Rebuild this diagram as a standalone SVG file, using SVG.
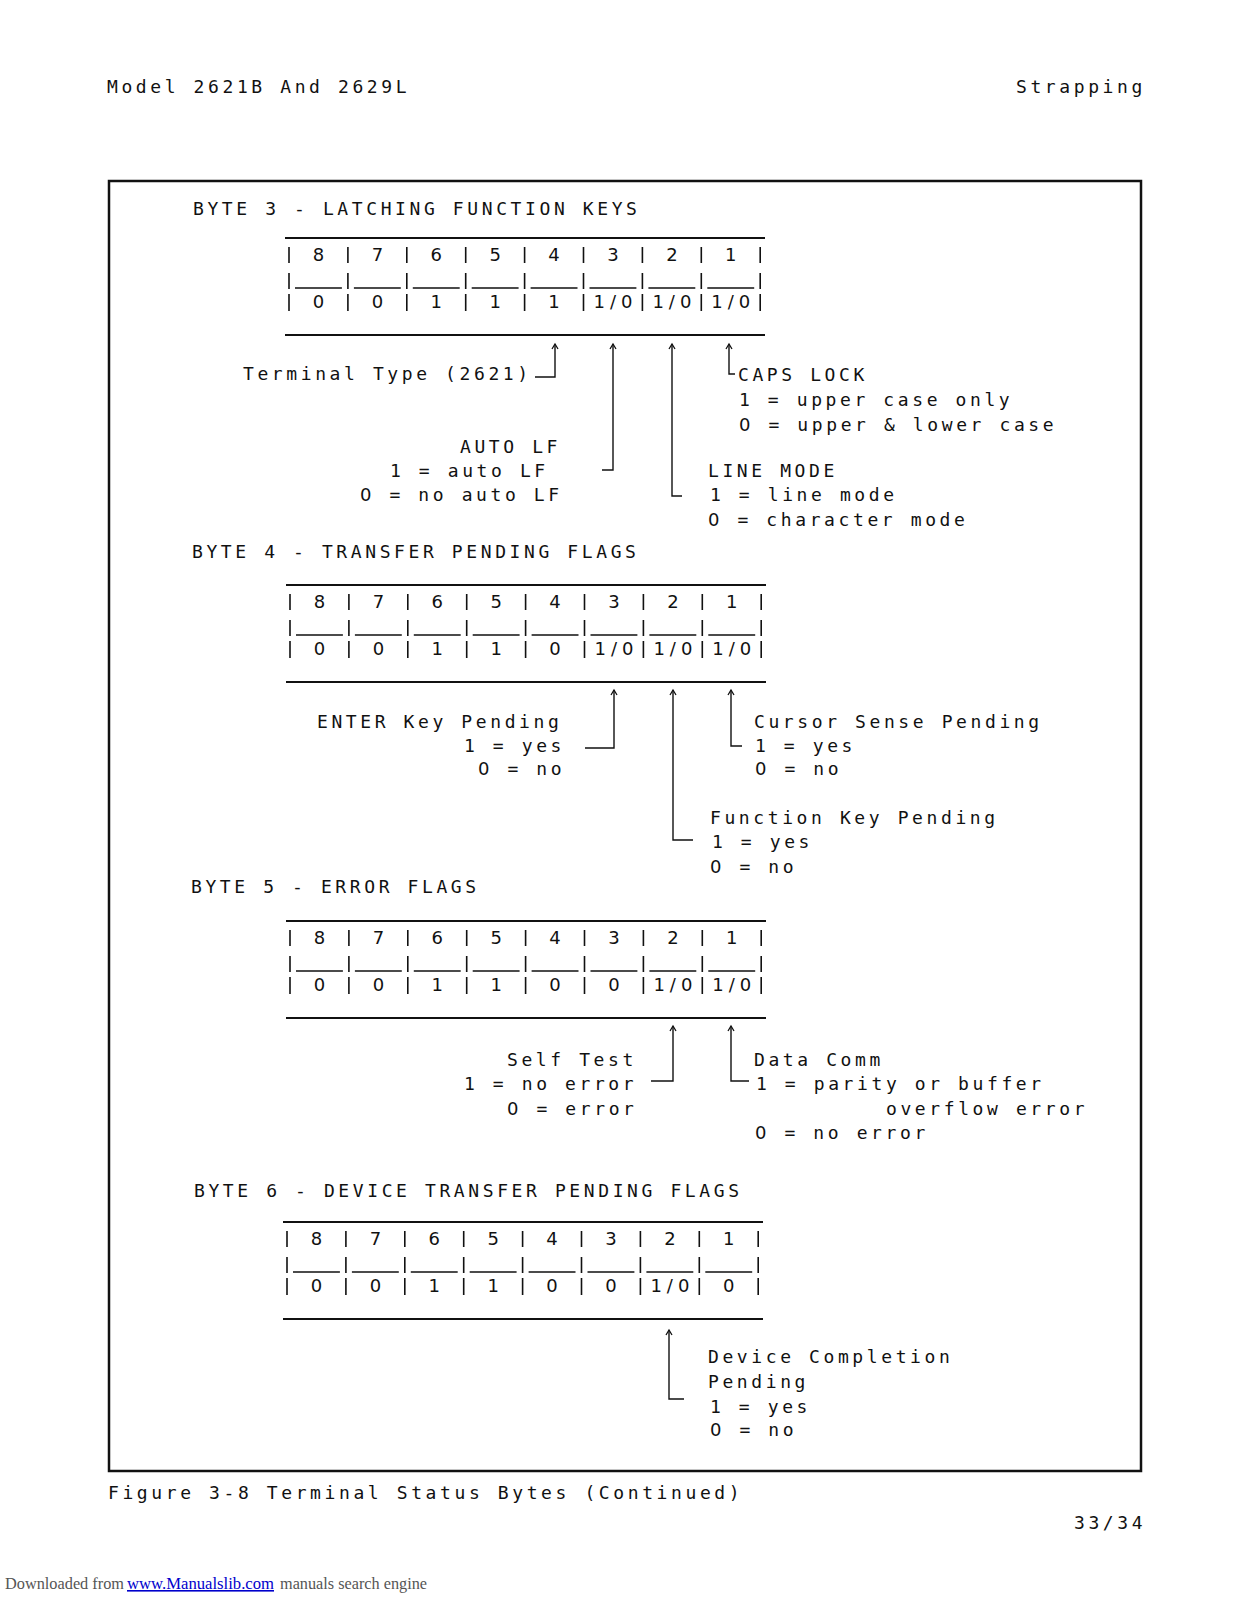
<svg xmlns="http://www.w3.org/2000/svg" width="1237" height="1600" viewBox="0 0 1237 1600" xml:space="preserve">
<style>
.t{font-family:"DejaVu Sans Mono","Liberation Mono",monospace;font-size:18px;letter-spacing:3.6px;fill:#111}
.z{font-family:"DejaVu Sans","Liberation Sans",sans-serif}
.c{font-family:"DejaVu Sans","Liberation Sans",sans-serif;font-size:18px;fill:#111;text-anchor:middle}
.c3{font-family:"DejaVu Sans","Liberation Sans",sans-serif;font-size:18px;fill:#111;text-anchor:middle;letter-spacing:5px}
.rule{stroke:#111;stroke-width:1.8;fill:none}
.bar{stroke:#111;stroke-width:1.6;fill:none}
.conn{stroke:#111;stroke-width:1.4;fill:none}
.dl{font-family:"Liberation Serif",serif;font-size:16px;fill:#555}
</style>
<defs>
<marker id="ah" markerUnits="userSpaceOnUse" viewBox="-8 -5 10 10" refX="0" refY="0" markerWidth="10" markerHeight="10" orient="auto-start-reverse">
<path d="M-5,-3 L0,0 L-5,3" stroke="#111" stroke-width="1.3" fill="none"/>
</marker>
<g id="grid">
<path class="rule" d="M-4,0 H476 M-4,97 H476"/>
<path class="bar" d="M0,9 V25 M0,35 V51 M0,56 V73 M58.9,9 V25 M58.9,35 V51 M58.9,56 V73 M117.8,9 V25 M117.8,35 V51 M117.8,56 V73 M176.7,9 V25 M176.7,35 V51 M176.7,56 V73 M235.6,9 V25 M235.6,35 V51 M235.6,56 V73 M294.5,9 V25 M294.5,35 V51 M294.5,56 V73 M353.4,9 V25 M353.4,35 V51 M353.4,56 V73 M412.3,9 V25 M412.3,35 V51 M412.3,56 V73 M471.2,9 V25 M471.2,35 V51 M471.2,56 V73"/>
<path class="bar" d="M6,50 H52.9 M64.9,50 H111.8 M123.8,50 H170.7 M182.7,50 H229.6 M241.6,50 H288.5 M300.5,50 H347.4 M359.4,50 H406.3 M418.3,50 H465.2"/>
</g>
</defs>
<rect width="1237" height="1600" fill="#fff"/>

<g id="header">
<text class="t" x="107" y="93">Model 2621B And 2629L</text>
<text class="t" x="1016" y="93">Strapping</text>
</g>

<rect id="frame" x="109" y="181" width="1032" height="1290" fill="none" stroke="#111" stroke-width="2.5"/>

<g id="byte3">
<text class="t" x="193" y="215">BYTE 3 - LATCHING FUNCTION KEYS</text>
<use href="#grid" x="289" y="238"/>
<g>
<text class="c" x="318.5" y="261">8</text><text class="c" x="377.4" y="261">7</text><text class="c" x="436.3" y="261">6</text><text class="c" x="495.2" y="261">5</text><text class="c" x="554.1" y="261">4</text><text class="c" x="613" y="261">3</text><text class="c" x="671.9" y="261">2</text><text class="c" x="730.8" y="261">1</text>
<text class="c" x="318.5" y="308">0</text><text class="c" x="377.4" y="308">0</text><text class="c" x="436.3" y="308">1</text><text class="c" x="495.2" y="308">1</text><text class="c" x="554.1" y="308">1</text><text class="c3" x="615.5" y="308">1/0</text><text class="c3" x="674.4" y="308">1/0</text><text class="c3" x="733.3" y="308">1/0</text>
</g>
</g>
<g id="b3-terminal-type"><text class="t" x="243" y="380">Terminal Type (2621)</text></g>
<g id="b3-caps-lock">
<text class="t" x="738" y="381">CAPS LOCK</text>
<text class="t" x="739" y="406">1 = upper case only</text>
<text class="t" x="739" y="431"><tspan class="z">0</tspan> = upper &amp; lower case</text>
</g>
<g id="b3-auto-lf">
<text class="t" x="460" y="453">AUTO LF</text>
<text class="t" x="390" y="477">1  = auto LF</text>
<text class="t" x="360" y="501"><tspan class="z">0</tspan> = no auto LF</text>
</g>
<g id="b3-line-mode">
<text class="t" x="708" y="477">LINE MODE</text>
<text class="t" x="710" y="501">1 = line mode</text>
<text class="t" x="708" y="526"><tspan class="z">0</tspan> = character mode</text>
</g>

<g id="byte4">
<text class="t" x="192" y="558">BYTE 4 - TRANSFER PENDING FLAGS</text>
<use href="#grid" x="290" y="585"/>
<g>
<text class="c" x="319.5" y="608">8</text><text class="c" x="378.4" y="608">7</text><text class="c" x="437.3" y="608">6</text><text class="c" x="496.2" y="608">5</text><text class="c" x="555.1" y="608">4</text><text class="c" x="614" y="608">3</text><text class="c" x="672.9" y="608">2</text><text class="c" x="731.8" y="608">1</text>
<text class="c" x="319.5" y="655">0</text><text class="c" x="378.4" y="655">0</text><text class="c" x="437.3" y="655">1</text><text class="c" x="496.2" y="655">1</text><text class="c" x="555.1" y="655">0</text><text class="c3" x="616.5" y="655">1/0</text><text class="c3" x="675.4" y="655">1/0</text><text class="c3" x="734.3" y="655">1/0</text>
</g>
</g>
<g id="b4-enter">
<text class="t" x="317" y="728">ENTER Key Pending</text>
<text class="t" x="464" y="752">1 = yes</text>
<text class="t" x="478" y="775"><tspan class="z">0</tspan> = no</text>
</g>
<g id="b4-cursor">
<text class="t" x="754" y="728">Cursor Sense Pending</text>
<text class="t" x="755" y="752">1 = yes</text>
<text class="t" x="755" y="775"><tspan class="z">0</tspan> = no</text>
</g>
<g id="b4-function">
<text class="t" x="710" y="824">Function Key Pending</text>
<text class="t" x="712" y="848">1 = yes</text>
<text class="t" x="710" y="873"><tspan class="z">0</tspan> = no</text>
</g>

<g id="byte5">
<text class="t" x="191" y="893">BYTE 5 - ERROR FLAGS</text>
<use href="#grid" x="290" y="921"/>
<g>
<text class="c" x="319.5" y="944">8</text><text class="c" x="378.4" y="944">7</text><text class="c" x="437.3" y="944">6</text><text class="c" x="496.2" y="944">5</text><text class="c" x="555.1" y="944">4</text><text class="c" x="614" y="944">3</text><text class="c" x="672.9" y="944">2</text><text class="c" x="731.8" y="944">1</text>
<text class="c" x="319.5" y="991">0</text><text class="c" x="378.4" y="991">0</text><text class="c" x="437.3" y="991">1</text><text class="c" x="496.2" y="991">1</text><text class="c" x="555.1" y="991">0</text><text class="c" x="614" y="991">0</text><text class="c3" x="675.4" y="991">1/0</text><text class="c3" x="734.3" y="991">1/0</text>
</g>
</g>
<g id="b5-self-test">
<text class="t" x="507" y="1066">Self Test</text>
<text class="t" x="464" y="1090">1 = no error</text>
<text class="t" x="507" y="1115"><tspan class="z">0</tspan> = error</text>
</g>
<g id="b5-data-comm">
<text class="t" x="754" y="1066">Data Comm</text>
<text class="t" x="756" y="1090">1 = parity or buffer</text>
<text class="t" x="886" y="1115">overflow error</text>
<text class="t" x="755" y="1139"><tspan class="z">0</tspan> = no error</text>
</g>

<g id="byte6">
<text class="t" x="194" y="1197">BYTE 6 - DEVICE TRANSFER PENDING FLAGS</text>
<use href="#grid" x="287" y="1222"/>
<g>
<text class="c" x="316.5" y="1245">8</text><text class="c" x="375.4" y="1245">7</text><text class="c" x="434.3" y="1245">6</text><text class="c" x="493.2" y="1245">5</text><text class="c" x="552.1" y="1245">4</text><text class="c" x="611" y="1245">3</text><text class="c" x="669.9" y="1245">2</text><text class="c" x="728.8" y="1245">1</text>
<text class="c" x="316.5" y="1292">0</text><text class="c" x="375.4" y="1292">0</text><text class="c" x="434.3" y="1292">1</text><text class="c" x="493.2" y="1292">1</text><text class="c" x="552.1" y="1292">0</text><text class="c" x="611" y="1292">0</text><text class="c3" x="672.4" y="1292">1/0</text><text class="c" x="728.8" y="1292">0</text>
</g>
</g>
<g id="b6-device">
<text class="t" x="708" y="1363">Device Completion</text>
<text class="t" x="708" y="1388">Pending</text>
<text class="t" x="710" y="1413">1 = yes</text>
<text class="t" x="710" y="1436"><tspan class="z">0</tspan> = no</text>
</g>

<g id="connectors">
<path class="conn" marker-start="url(#ah)" d="M555,344 V377 H535"/>
<path class="conn" marker-start="url(#ah)" d="M613,344 V470 H602"/>
<path class="conn" marker-start="url(#ah)" d="M672,344 V496 H682"/>
<path class="conn" marker-start="url(#ah)" d="M729,344 V374 H735"/>
<path class="conn" marker-start="url(#ah)" d="M614,690 V748 H585"/>
<path class="conn" marker-start="url(#ah)" d="M673,690 V840 H693"/>
<path class="conn" marker-start="url(#ah)" d="M731,690 V746 H742"/>
<path class="conn" marker-start="url(#ah)" d="M673,1026 V1081 H651"/>
<path class="conn" marker-start="url(#ah)" d="M731,1026 V1081 H749"/>
<path class="conn" marker-start="url(#ah)" d="M669,1330 V1399 H684"/>
</g>

<g id="footer">
<text class="t" x="108" y="1499">Figure 3-8 Terminal Status Bytes (Continued)</text>
<text class="t" x="1074" y="1529">33/34</text>
<text class="dl" x="5" y="1589" textLength="119" lengthAdjust="spacingAndGlyphs">Downloaded from</text>
<text class="dl" x="127" y="1589" textLength="147" lengthAdjust="spacingAndGlyphs" text-decoration="underline" style="fill:#0000cc">www.Manualslib.com</text>
<text class="dl" x="280" y="1589" textLength="147" lengthAdjust="spacingAndGlyphs">manuals search engine</text>
</g>
</svg>
